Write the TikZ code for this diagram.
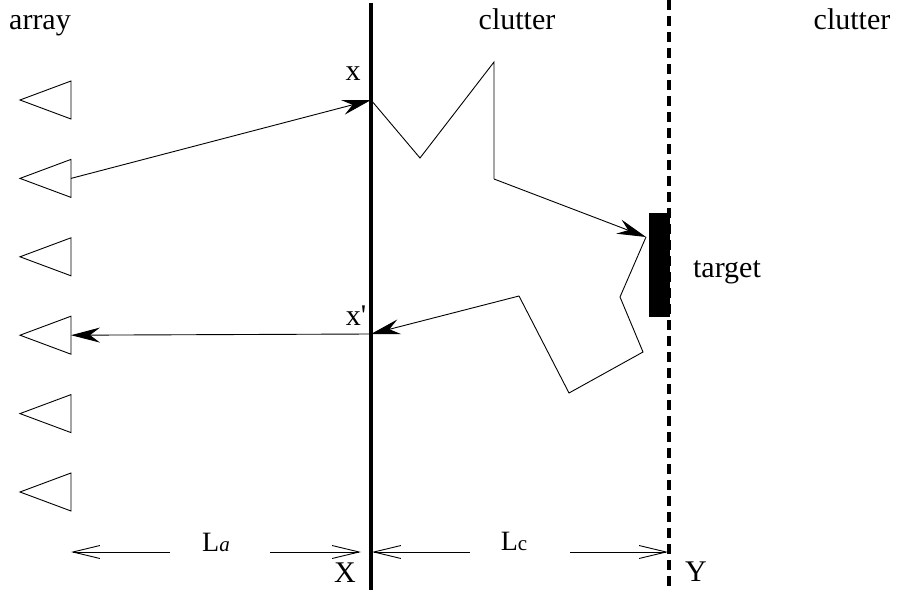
\documentclass[tikz,border=0pt]{standalone}
\usepackage{fontspec}
\setmainfont{Liberation Serif}
\usetikzlibrary{arrows.meta}
\tikzset{
  thin line/.style={line width=0.9pt, line join=miter},
  fillarrow/.style={thin line, -{Stealth[length=29pt,width=15pt,inset=10pt]}},
  dimarrow/.style={thin line, -{Straight Barb[length=27pt,width=13pt]}},
  lab/.style={anchor=base, inner sep=0pt, font=\fontsize{30}{36}\selectfont},
  sublab/.style={anchor=base, inner sep=0pt, font=\fontsize{28}{32}\selectfont},
  elem/.style={line width=0.9pt},
}
\begin{document}
\begin{tikzpicture}[x=1pt,y=-1pt]
\useasboundingbox (0,0) rectangle (899,596);
% texts
\node[lab] (tarray) at (40,30) {array};
\node[lab] (tcl1) at (517,30) {clutter};
\node[lab] (tcl2) at (852,30) {clutter};
\node[lab] (ttarget) at (727,277) {target};
\node[lab] (tx) at (353,81) {x};
\node[lab] (txp) at (356,325) {x\textquotesingle};
\node[lab] (tX) at (345,582) {X};
\node[lab] (tY) at (696,581) {Y};
\node[sublab] (tLa) at (216,551) {L{\fontsize{21}{24}\selectfont\itshape a}};
\node[sublab] (tLc) at (514,550) {L{\fontsize{21}{24}\selectfont c}};
% array elements
\foreach \i in {0,...,5} {
  \pgfmathsetmacro{\yc}{100+78.4*\i}
  \coordinate (e\i) at (71,\yc);
  \draw[elem] (71,\yc-19) -- (20,\yc) -- (71,\yc+19) -- cycle;
}
% interfaces
\coordinate (Xtop) at (371,3);
\coordinate (Xbot) at (371,590);
\draw[line width=3.2pt] (Xtop) -- (Xbot);
\coordinate (Ytop) at (669,0);
\coordinate (Ybot) at (669,592);
\draw[line width=3.2pt, dash pattern=on 10pt off 6pt] (Ytop) -- (Ybot);
% target
\node[fill=black, minimum width=21pt, minimum height=104pt, inner sep=0pt] (target) at (659.5,265) {};
% ray paths
\coordinate (px) at (371,100);
\coordinate (pxp) at (371,334);
\coordinate (z1) at (420,158);
\coordinate (z2) at (494,62);
\coordinate (z3) at (494,179);
\coordinate (hit) at (646,237);
\coordinate (r1) at (620,297);
\coordinate (r2) at (643,352);
\coordinate (r3) at (569,393);
\coordinate (r4) at (519,296);
\draw[fillarrow] (e1) -- (px);
\draw[thin line] (px) -- (z1) -- (z2) -- (z3);
\draw[fillarrow] (z3) -- (hit);
\draw[thin line] (hit) -- (r1) -- (r2) -- (r3) -- (r4);
\draw[fillarrow] (r4) -- (pxp);
\draw[fillarrow] (pxp) -- (e3);
% dimension arrows
\coordinate (da1) at (170,552);
\coordinate (da0) at (71,552);
\coordinate (da2) at (270,552);
\coordinate (da3) at (361,552);
\coordinate (dc1) at (470,552);
\coordinate (dc0) at (372,552);
\coordinate (dc2) at (570,552);
\coordinate (dc3) at (668,552);
\draw[dimarrow] (da1) -- (da0);
\draw[dimarrow] (da2) -- (da3);
\draw[dimarrow] (dc1) -- (dc0);
\draw[dimarrow] (dc2) -- (dc3);
\end{tikzpicture}
\end{document}
